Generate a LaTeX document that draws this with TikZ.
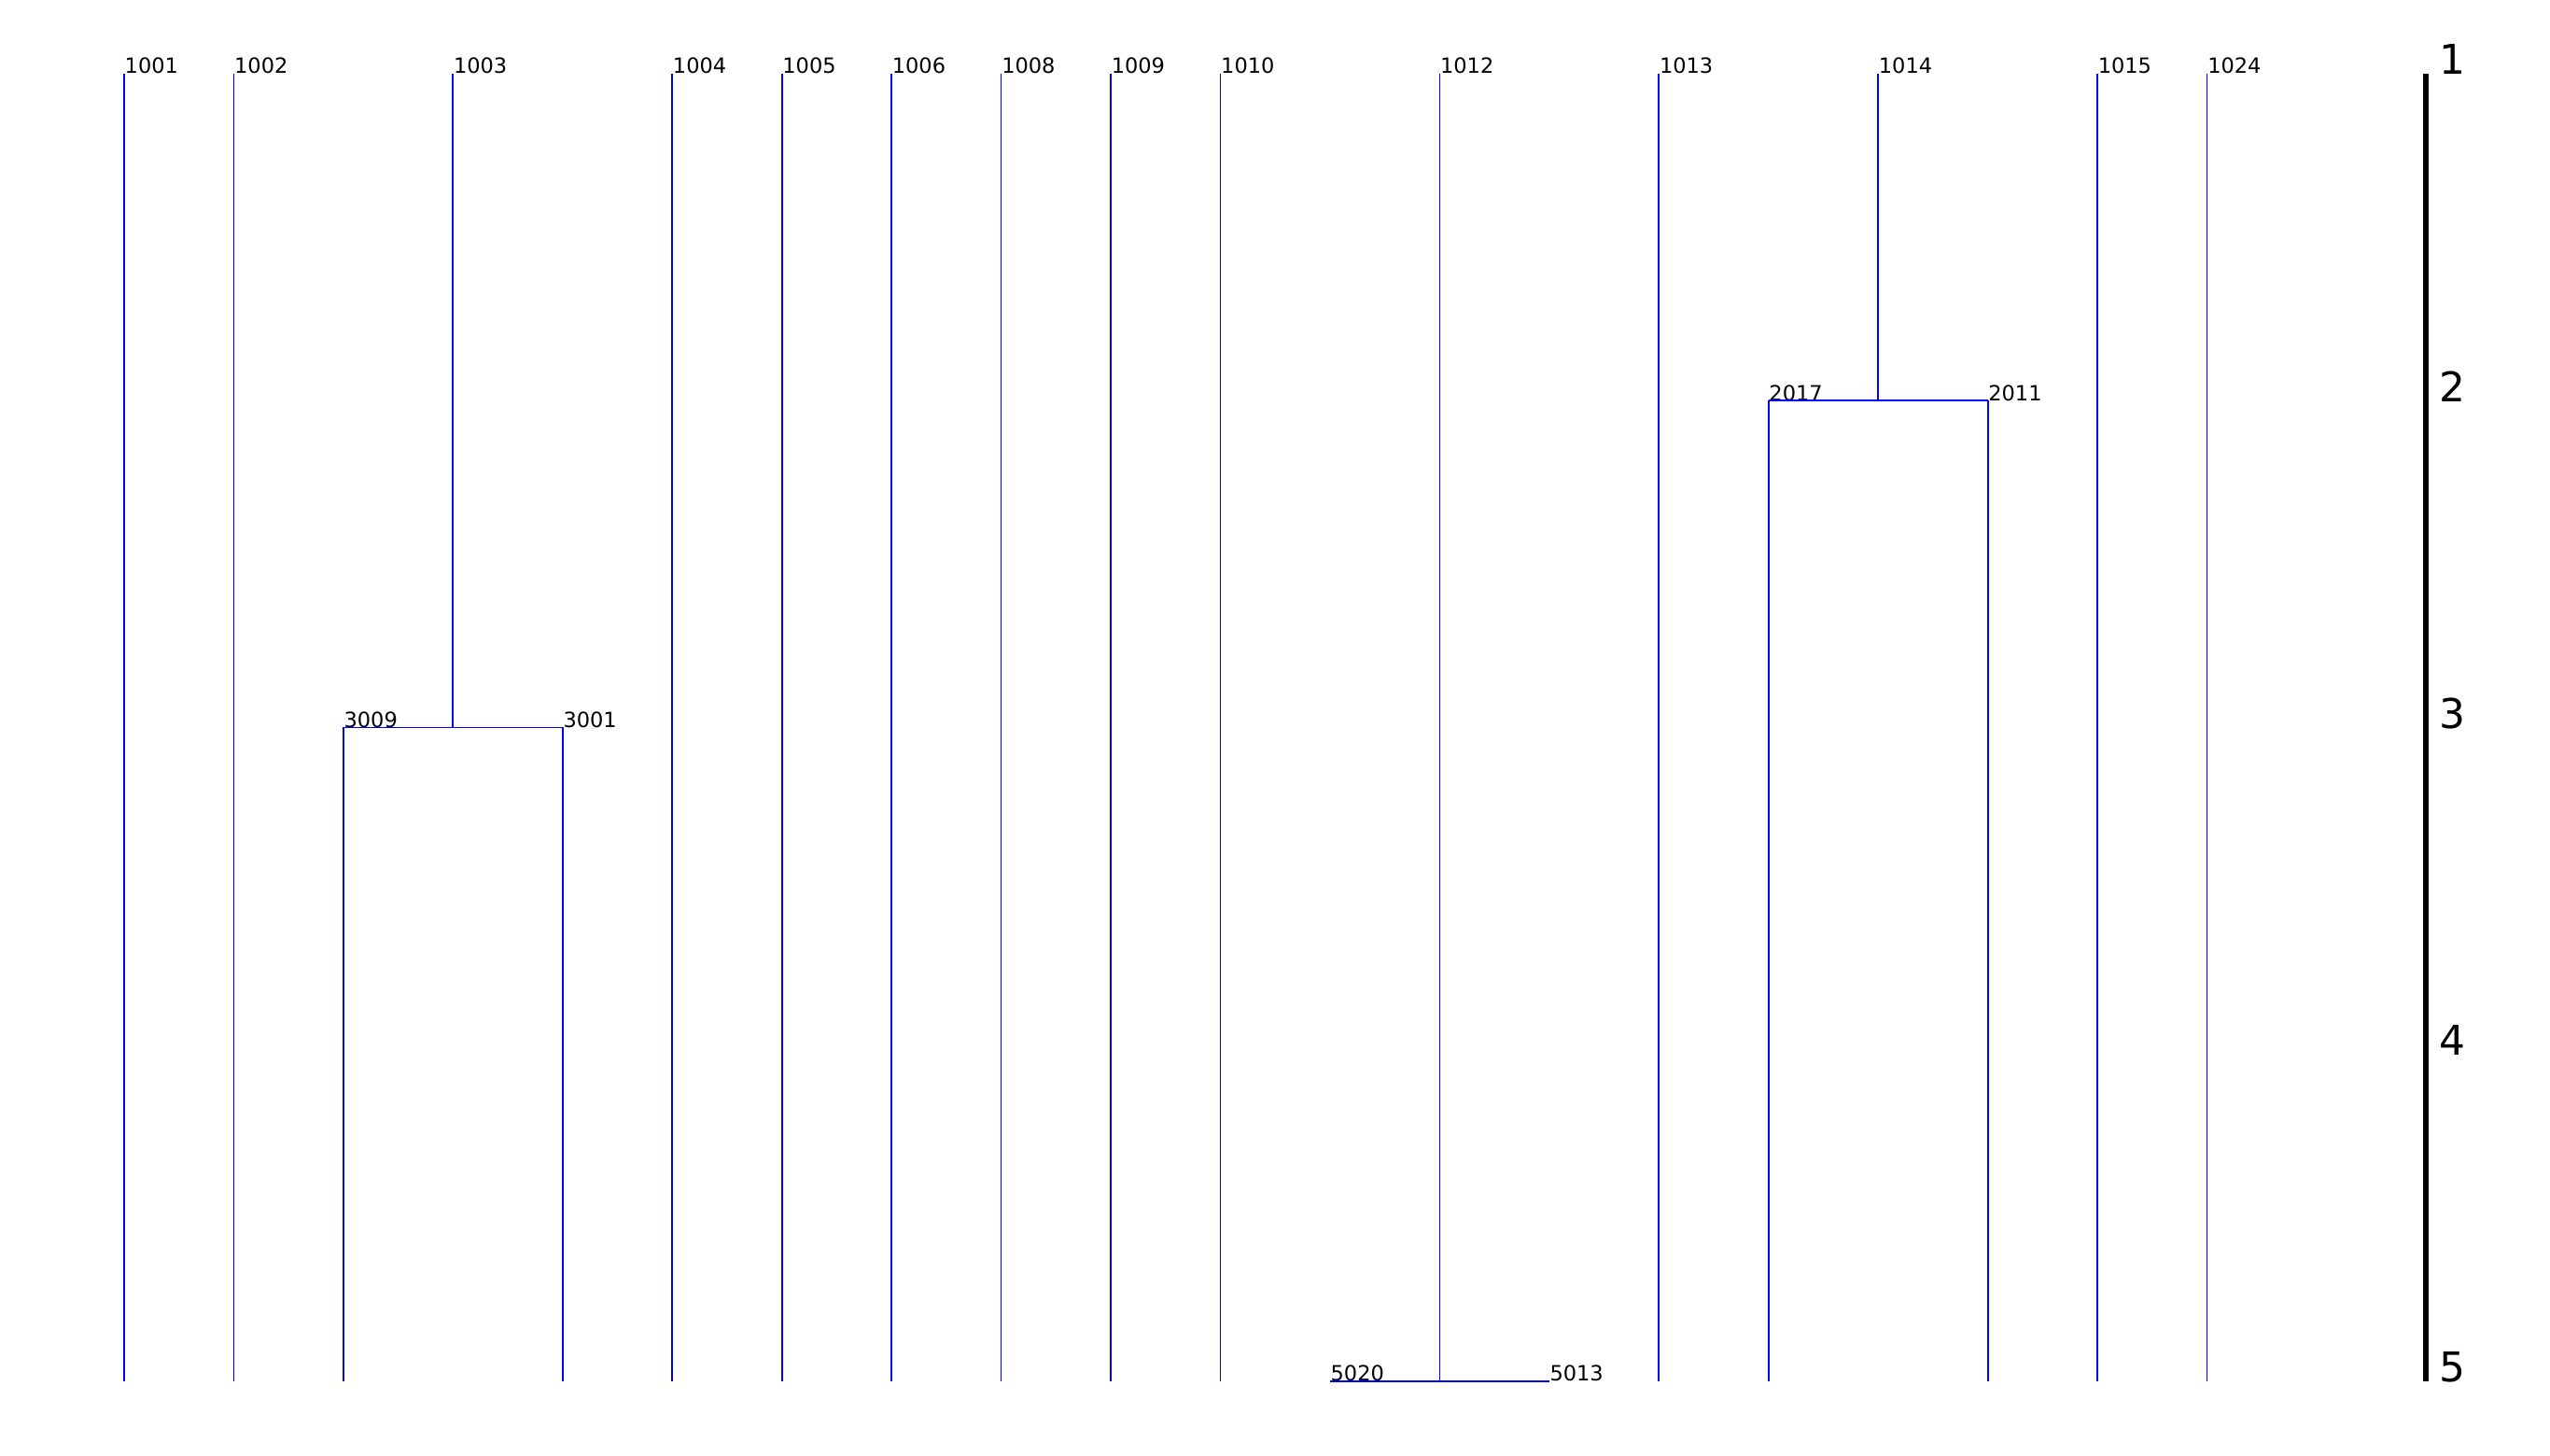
\documentclass[tikz,border=0pt]{standalone}
\usepackage{fontspec}
\setmainfont{DejaVu Sans}
\usepackage{xcolor}
\usetikzlibrary{positioning}
\definecolor{treeBlue}{RGB}{0,0,255}

\begin{document}
\begin{tikzpicture}[
  declare function={colx(\c)=1.33+1.1745*\c; levy(\l)=-0.79-3.5025*(\l-1);},
  branch/.style={treeBlue, line width=0.5pt},
  idlabel/.style={anchor=base west, inner sep=0pt, font=\fontsize{6.4}{8}\selectfont},
  levellabel/.style={anchor=base west, inner sep=0pt, font=\fontsize{12.5}{15}\selectfont}]
\useasboundingbox (0,0) rectangle (27.32,-15.60);

% single lineages, level 1 down to level 5
\foreach \c/\id in {0/1001,1/1002,5/1004,6/1005,7/1006,8/1008,9/1009,10/1010,14/1013,18/1015,19/1024}{
  \node[idlabel] (n\id) at ({colx(\c)},{levy(1)}) {\id};
  \coordinate (e\id) at ({colx(\c)},{levy(5)});
  \draw[branch] (n\id.base west) -- (e\id);
}

% 1003 splits at level 3
\node[idlabel] (n1003) at ({colx(3)},{levy(1)}) {1003};
\node[idlabel] (n3009) at ({colx(2)},{levy(3)}) {3009};
\node[idlabel] (n3001) at ({colx(4)},{levy(3)}) {3001};
\coordinate (s1003) at (n1003.base west |- n3009.base west);
\coordinate (e3009) at ({colx(2)},{levy(5)});
\coordinate (e3001) at ({colx(4)},{levy(5)});
\draw[branch] (n1003.base west) -- (s1003);
\draw[branch] (n3009.base west) -- (n3001.base west);
\draw[branch] (n3009.base west) -- (e3009);
\draw[branch] (n3001.base west) -- (e3001);

% 1012 splits at level 5
\node[idlabel] (n1012) at ({colx(12)},{levy(1)}) {1012};
\node[idlabel] (n5020) at ({colx(11)},{levy(5)}) {5020};
\node[idlabel] (n5013) at ({colx(13)},{levy(5)}) {5013};
\coordinate (s1012) at (n1012.base west |- n5020.base west);
\draw[branch] (n1012.base west) -- (s1012);
\draw[branch] (n5020.base west) -- (n5013.base west);

% 1014 splits at level 2
\node[idlabel] (n1014) at ({colx(16)},{levy(1)}) {1014};
\node[idlabel] (n2017) at ({colx(15)},{levy(2)}) {2017};
\node[idlabel] (n2011) at ({colx(17)},{levy(2)}) {2011};
\coordinate (s1014) at (n1014.base west |- n2017.base west);
\coordinate (e2017) at ({colx(15)},{levy(5)});
\coordinate (e2011) at ({colx(17)},{levy(5)});
\draw[branch] (n1014.base west) -- (s1014);
\draw[branch] (n2017.base west) -- (n2011.base west);
\draw[branch] (n2017.base west) -- (e2017);
\draw[branch] (n2011.base west) -- (e2011);

% level axis
\coordinate (axtop) at (25.99,{levy(1)});
\coordinate (axbot) at (25.99,{levy(5)});
\draw[line width=1.6pt] (axtop) -- (axbot);
\foreach \l in {1,...,5}
  \node[levellabel] (lev\l) at (26.13,{levy(\l)-0.01}) {\l};
\end{tikzpicture}
\end{document}
